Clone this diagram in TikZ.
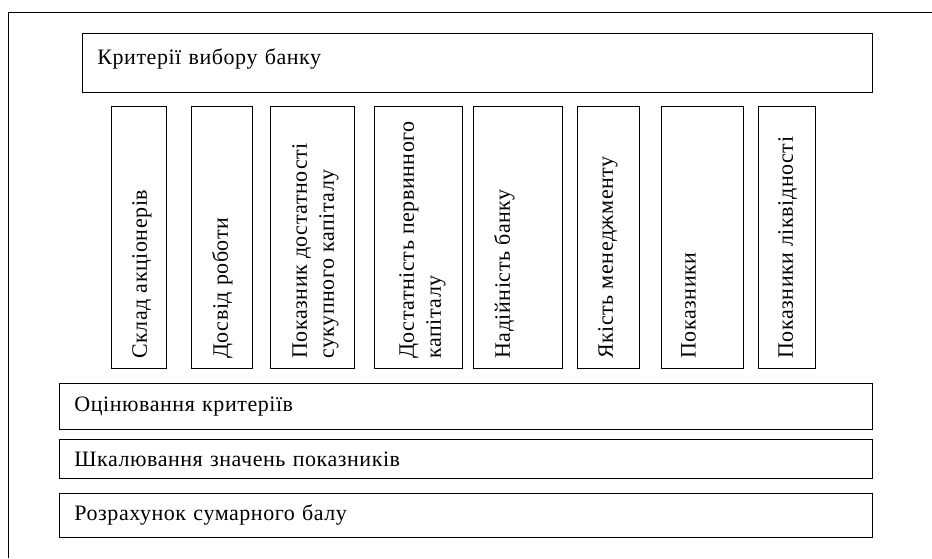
\documentclass[tikz,border=0pt]{standalone}
\usepackage{fontspec}
\setmainfont{Liberation Serif}[LetterSpace=2.5]

\tikzset{
	rowbox/.style={draw, line width=0.9pt, anchor=north west, inner xsep=15pt, inner ysep=0pt, align=left, font=\fontsize{22}{27}\selectfont},
	critbox/.style={draw, line width=0.9pt, anchor=north west, minimum height=262pt, inner sep=0pt},
	crittext/.style={rotate=90, anchor=north west, inner sep=0pt, align=left, font=\fontsize{22}{27}\selectfont},
}

\begin{document}
\begin{tikzpicture}[x=1pt, y=-1pt]
	\useasboundingbox (0, 0) rectangle (932, 558);
	% Frame:
	\draw[line width=0.9pt] (8, 558) -- (8, 12) -- (932, 12);
	% Header:
	\node[rowbox, text width=760pt, minimum height=59pt, text depth=12pt] (crit) at (82, 33){Критерії вибору банку};
	% Criteria columns:
	\node[critbox, minimum width=55pt] (owners) at (111, 106){} node[crittext] (ownerslbl) at ([xshift=21pt, yshift=10pt]owners.south west){Склад акціонерів};
	\node[critbox, minimum width=61pt] (exper) at (191, 106){} node[crittext] (experlbl) at ([xshift=21pt, yshift=10pt]exper.south west){Досвід роботи};
	\node[critbox, minimum width=84pt] (totcap) at (270, 106){} node[crittext] (totcaplbl) at ([xshift=22pt, yshift=10pt]totcap.south west){Показник достатності\\сукупного капіталу};
	\node[critbox, minimum width=88pt] (primcap) at (374, 106){} node[crittext] (primcaplbl) at ([xshift=25pt, yshift=10pt]primcap.south west){Достатність первинного\\капіталу};
	\node[critbox, minimum width=89pt] (reliab) at (473, 106){} node[crittext] (reliablbl) at ([xshift=21pt, yshift=10pt]reliab.south west){Надійність банку};
	\node[critbox, minimum width=62pt] (manag) at (577, 106){} node[crittext] (managlbl) at ([xshift=21pt, yshift=10pt]manag.south west){Якість менеджменту};
	\node[critbox, minimum width=82pt] (indic) at (661, 106){} node[crittext] (indiclbl) at ([xshift=20pt, yshift=10pt]indic.south west){Показники};
	\node[critbox, minimum width=57pt] (liquid) at (758, 106){} node[crittext] (liquidlbl) at ([xshift=20pt, yshift=10pt]liquid.south west){Показники ліквідності};
	% Steps:
	\node[rowbox, text width=783pt, minimum height=46pt] (assess) at (59, 383){Оцінювання критеріїв};
	\node[rowbox, text width=783pt, minimum height=39pt] (scale) at (59, 439){Шкалювання значень показників};
	\node[rowbox, text width=783pt, minimum height=44pt] (total) at (59, 493){Розрахунок сумарного балу};
\end{tikzpicture}
\end{document}
